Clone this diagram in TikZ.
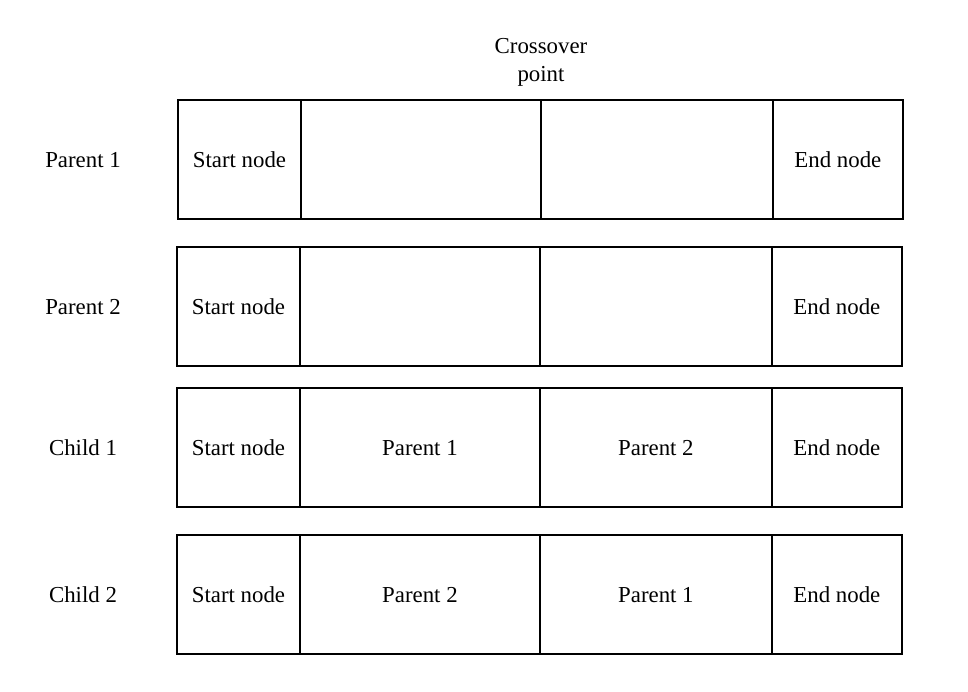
\documentclass[tikz,border=0pt]{standalone}
\usepackage{fontspec}
\setmainfont{Liberation Serif}
\tikzset{
  cell/.style={draw, line width=0.8pt, rectangle, minimum height=2.38cm,
    inner sep=0pt, outer sep=0pt, anchor=north west,
    text height=2.2ex, text depth=0.25ex, font=\fontsize{13}{16}\selectfont},
  rowlabel/.style={font=\fontsize{13}{16}\selectfont,
    text height=2.2ex, text depth=0.25ex},
}
\begin{document}
\begin{tikzpicture}[x=0.02cm,y=-0.02cm]
\useasboundingbox (0,0) rectangle (968,691);
\node[font=\fontsize{13}{16}\selectfont, align=center] (cross) at (541,62) {Crossover\\point};
% one row of cells per chromosome
\foreach \n/\yy/\xx/\lab/\ta/\tb in {p1/100/178/Parent 1/{}/{},
    p2/247/177/Parent 2/{}/{},
    c1/388/177/Child 1/Parent 1/Parent 2,
    c2/535/177/Child 2/Parent 2/Parent 1}
{
  \node[rowlabel] (\n l) at (83,\yy+60) {\lab};
  \node[cell, minimum width=2.46cm] (\n s) at (\xx,\yy) {Start node};
  \node[cell, minimum width=4.8cm] (\n a) at (\n s.north east) {\ta};
  \node[cell, minimum width=4.64cm] (\n b) at (\n a.north east) {\tb};
  \node[cell, minimum width=2.6cm] (\n e) at (\n b.north east) {End node};
}
\end{tikzpicture}
\end{document}
